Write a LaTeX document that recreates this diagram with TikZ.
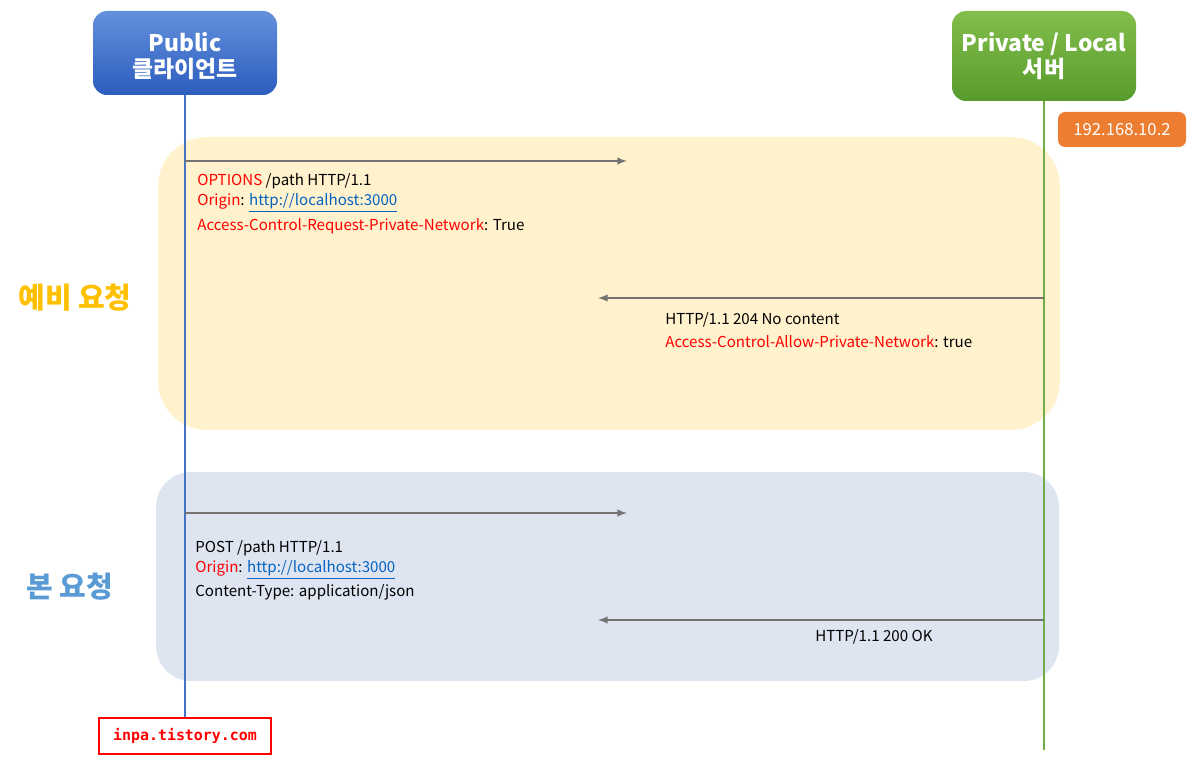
\documentclass[tikz,border=0pt]{standalone}
\usepackage{fontspec}
\setmainfont{Noto Sans CJK KR}
\setmonofont{DejaVu Sans Mono}
\begin{document}
\begin{tikzpicture}[x=0.02cm,y=-0.02cm,
  hdr/.style={rounded corners=8pt,text=white,font=\fontsize{13pt}{15pt}\selectfont\bfseries,align=center,inner sep=0},
  txt/.style={anchor=west,inner sep=0,font=\fontsize{8.6pt}{11pt}\selectfont},
  arr/.style={draw=gray!90!black,line width=0.9pt,-latex},
  big/.style={font=\fontsize{16.5pt}{18pt}\selectfont\bfseries}]
\definecolor{red1}{HTML}{FF0000}\definecolor{lnk}{HTML}{0563C1}
\definecolor{bl}{HTML}{4472C4}\definecolor{gr}{HTML}{70AD47}
\useasboundingbox (0,0) rectangle (1197,773);
\fill[fill={rgb,255:red,255;green,242;blue,204},rounded corners=28pt] (158,137) rectangle (1060,430);
\fill[fill={rgb,255:red,222;green,229;blue,241},rounded corners=20pt] (156,472) rectangle (1059,681);
\draw[bl,line width=1pt] (185,95) coordinate(pl) -- (185,718) coordinate(plb);
\draw[gr,line width=1pt] (1044,101) coordinate(sl) -- (1044,750) coordinate(slb);
\shade[top color={rgb,255:red,100;green,145;blue,220},bottom color={rgb,255:red,44;green,92;blue,190},rounded corners=8pt] (93,11) rectangle (277,95);
\node[hdr] (pub) at (185,56) {Public\\클라이언트};
\shade[top color={rgb,255:red,130;green,190;blue,75},bottom color={rgb,255:red,88;green,155;blue,45},rounded corners=8pt] (952,11) rectangle (1136,101);
\node[hdr] (srv) at (1044,56) {Private / Local\\서버};
\node[fill={rgb,255:red,237;green,125;blue,49},rounded corners=4pt,minimum width=128*0.02cm,minimum height=35*0.02cm,text=white,font=\fontsize{9.5pt}{11pt}\selectfont] (ip) at (1122,129.5) {192.168.10.2};
\coordinate (a1) at (185,161); \coordinate (b1) at (627,161);
\coordinate (a2) at (1044,298); \coordinate (b2) at (598,298);
\coordinate (a3) at (185,513); \coordinate (b3) at (627,513);
\coordinate (a4) at (1044,620); \coordinate (b4) at (598,620);
\draw[arr] (a1) -- (b1); \draw[arr] (a2) -- (b2);
\draw[arr] (a3) -- (b3); \draw[arr] (a4) -- (b4);
\node[txt] (t1) at (197,181) {\textcolor{red1}{OPTIONS} /path HTTP/1.1};
\node[txt] (t2) at (197,203) {\textcolor{red1}{Origin}: \textcolor{lnk}{\underline{http://localhost:3000}}};
\node[txt] (t3) at (197,226) {\textcolor{red1}{Access-Control-Request-Private-Network}: True};
\node[txt] (t4) at (665,320) {HTTP/1.1 204 No content};
\node[txt] (t5) at (665,342) {\textcolor{red1}{Access-Control-Allow-Private-Network}: true};
\node[txt] (t6) at (195,548) {POST /path HTTP/1.1};
\node[txt] (t7) at (195,570) {\textcolor{red1}{Origin}: \textcolor{lnk}{\underline{http://localhost:3000}}};
\node[txt] (t8) at (195,592) {Content-Type: application/json};
\node[txt] (t9) at (815,637) {HTTP/1.1 200 OK};
\node[big,text={rgb,255:red,255;green,192;blue,0}] (pre) at (75,298) {예비 요청};
\node[big,text={rgb,255:red,91;green,155;blue,213}] (main) at (70,587) {본 요청};
\node[draw=red1,line width=1pt,fill=white,minimum width=172*0.02cm,minimum height=36*0.02cm,text=red1,font=\ttfamily\bfseries\fontsize{8.5pt}{11pt}\selectfont] (wm) at (185,736) {inpa.tistory.com};
\end{tikzpicture}
\end{document}
